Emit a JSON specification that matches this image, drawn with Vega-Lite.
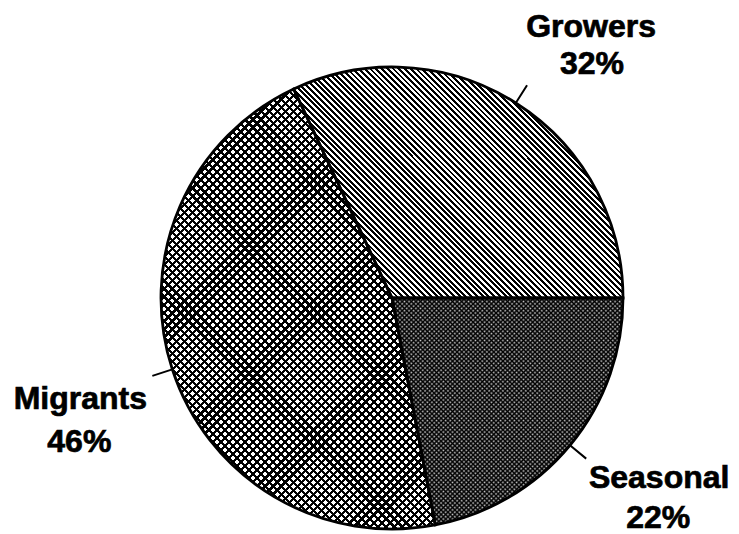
{
  "$schema": "https://vega.github.io/schema/vega-lite/v6.json",
  "autosize": {"type": "none"},
  "width": 600,
  "height": 468,
  "padding": {"left": 92, "top": 64, "right": 47, "bottom": 2},
  "background": "white",
  "view": {"stroke": null},
  "data": {
    "values": [
      {"group": "Growers", "share": 0.32},
      {"group": "Seasonal", "share": 0.22},
      {"group": "Migrants", "share": 0.46}
    ]
  },
  "transform": [
    {"stack": "share", "groupby": [], "sort": [{"field": "group", "order": "descending"}], "as": ["s0", "s1"]}
  ],
  "layer": [
    {
      "transform": [{"filter": "datum.group === 'Growers'"}],
      "mark": {"type": "arc", "outerRadius": 231, "fill": {"gradient": "linear", "x1": 0, "y1": 1, "x2": 1.169, "y2": 0.1802, "stops": [
        {"offset":0,"color":"#000"},{"offset":0.005,"color":"#000"},{"offset":0.005,"color":"#fff"},{"offset":0.01,"color":"#fff"},{"offset":0.01,"color":"#000"},{"offset":0.015,"color":"#000"},{"offset":0.015,"color":"#fff"},{"offset":0.02,"color":"#fff"},{"offset":0.02,"color":"#000"},{"offset":0.025,"color":"#000"},{"offset":0.025,"color":"#fff"},{"offset":0.03,"color":"#fff"},{"offset":0.03,"color":"#000"},{"offset":0.035,"color":"#000"},{"offset":0.035,"color":"#fff"},{"offset":0.04,"color":"#fff"},{"offset":0.04,"color":"#000"},{"offset":0.045,"color":"#000"},{"offset":0.045,"color":"#fff"},{"offset":0.05,"color":"#fff"},{"offset":0.05,"color":"#000"},{"offset":0.055,"color":"#000"},{"offset":0.055,"color":"#fff"},{"offset":0.06,"color":"#fff"},{"offset":0.06,"color":"#000"},{"offset":0.065,"color":"#000"},{"offset":0.065,"color":"#fff"},{"offset":0.07,"color":"#fff"},{"offset":0.07,"color":"#000"},{"offset":0.075,"color":"#000"},{"offset":0.075,"color":"#fff"},{"offset":0.08,"color":"#fff"},{"offset":0.08,"color":"#000"},{"offset":0.085,"color":"#000"},{"offset":0.085,"color":"#fff"},{"offset":0.09,"color":"#fff"},{"offset":0.09,"color":"#000"},{"offset":0.095,"color":"#000"},{"offset":0.095,"color":"#fff"},{"offset":0.1,"color":"#fff"},
        {"offset":0.1,"color":"#000"},{"offset":0.105,"color":"#000"},{"offset":0.105,"color":"#fff"},{"offset":0.11,"color":"#fff"},{"offset":0.11,"color":"#000"},{"offset":0.115,"color":"#000"},{"offset":0.115,"color":"#fff"},{"offset":0.12,"color":"#fff"},{"offset":0.12,"color":"#000"},{"offset":0.125,"color":"#000"},{"offset":0.125,"color":"#fff"},{"offset":0.13,"color":"#fff"},{"offset":0.13,"color":"#000"},{"offset":0.135,"color":"#000"},{"offset":0.135,"color":"#fff"},{"offset":0.14,"color":"#fff"},{"offset":0.14,"color":"#000"},{"offset":0.145,"color":"#000"},{"offset":0.145,"color":"#fff"},{"offset":0.15,"color":"#fff"},{"offset":0.15,"color":"#000"},{"offset":0.155,"color":"#000"},{"offset":0.155,"color":"#fff"},{"offset":0.16,"color":"#fff"},{"offset":0.16,"color":"#000"},{"offset":0.165,"color":"#000"},{"offset":0.165,"color":"#fff"},{"offset":0.17,"color":"#fff"},{"offset":0.17,"color":"#000"},{"offset":0.175,"color":"#000"},{"offset":0.175,"color":"#fff"},{"offset":0.18,"color":"#fff"},{"offset":0.18,"color":"#000"},{"offset":0.185,"color":"#000"},{"offset":0.185,"color":"#fff"},{"offset":0.19,"color":"#fff"},{"offset":0.19,"color":"#000"},{"offset":0.195,"color":"#000"},{"offset":0.195,"color":"#fff"},{"offset":0.2,"color":"#fff"},
        {"offset":0.2,"color":"#000"},{"offset":0.205,"color":"#000"},{"offset":0.205,"color":"#fff"},{"offset":0.21,"color":"#fff"},{"offset":0.21,"color":"#000"},{"offset":0.215,"color":"#000"},{"offset":0.215,"color":"#fff"},{"offset":0.22,"color":"#fff"},{"offset":0.22,"color":"#000"},{"offset":0.225,"color":"#000"},{"offset":0.225,"color":"#fff"},{"offset":0.23,"color":"#fff"},{"offset":0.23,"color":"#000"},{"offset":0.235,"color":"#000"},{"offset":0.235,"color":"#fff"},{"offset":0.24,"color":"#fff"},{"offset":0.24,"color":"#000"},{"offset":0.245,"color":"#000"},{"offset":0.245,"color":"#fff"},{"offset":0.25,"color":"#fff"},{"offset":0.25,"color":"#000"},{"offset":0.255,"color":"#000"},{"offset":0.255,"color":"#fff"},{"offset":0.26,"color":"#fff"},{"offset":0.26,"color":"#000"},{"offset":0.265,"color":"#000"},{"offset":0.265,"color":"#fff"},{"offset":0.27,"color":"#fff"},{"offset":0.27,"color":"#000"},{"offset":0.275,"color":"#000"},{"offset":0.275,"color":"#fff"},{"offset":0.28,"color":"#fff"},{"offset":0.28,"color":"#000"},{"offset":0.285,"color":"#000"},{"offset":0.285,"color":"#fff"},{"offset":0.29,"color":"#fff"},{"offset":0.29,"color":"#000"},{"offset":0.295,"color":"#000"},{"offset":0.295,"color":"#fff"},{"offset":0.3,"color":"#fff"},
        {"offset":0.3,"color":"#000"},{"offset":0.305,"color":"#000"},{"offset":0.305,"color":"#fff"},{"offset":0.31,"color":"#fff"},{"offset":0.31,"color":"#000"},{"offset":0.315,"color":"#000"},{"offset":0.315,"color":"#fff"},{"offset":0.32,"color":"#fff"},{"offset":0.32,"color":"#000"},{"offset":0.325,"color":"#000"},{"offset":0.325,"color":"#fff"},{"offset":0.33,"color":"#fff"},{"offset":0.33,"color":"#000"},{"offset":0.335,"color":"#000"},{"offset":0.335,"color":"#fff"},{"offset":0.34,"color":"#fff"},{"offset":0.34,"color":"#000"},{"offset":0.345,"color":"#000"},{"offset":0.345,"color":"#fff"},{"offset":0.35,"color":"#fff"},{"offset":0.35,"color":"#000"},{"offset":0.355,"color":"#000"},{"offset":0.355,"color":"#fff"},{"offset":0.36,"color":"#fff"},{"offset":0.36,"color":"#000"},{"offset":0.365,"color":"#000"},{"offset":0.365,"color":"#fff"},{"offset":0.37,"color":"#fff"},{"offset":0.37,"color":"#000"},{"offset":0.375,"color":"#000"},{"offset":0.375,"color":"#fff"},{"offset":0.38,"color":"#fff"},{"offset":0.38,"color":"#000"},{"offset":0.385,"color":"#000"},{"offset":0.385,"color":"#fff"},{"offset":0.39,"color":"#fff"},{"offset":0.39,"color":"#000"},{"offset":0.395,"color":"#000"},{"offset":0.395,"color":"#fff"},{"offset":0.4,"color":"#fff"},
        {"offset":0.4,"color":"#000"},{"offset":0.405,"color":"#000"},{"offset":0.405,"color":"#fff"},{"offset":0.41,"color":"#fff"},{"offset":0.41,"color":"#000"},{"offset":0.415,"color":"#000"},{"offset":0.415,"color":"#fff"},{"offset":0.42,"color":"#fff"},{"offset":0.42,"color":"#000"},{"offset":0.425,"color":"#000"},{"offset":0.425,"color":"#fff"},{"offset":0.43,"color":"#fff"},{"offset":0.43,"color":"#000"},{"offset":0.435,"color":"#000"},{"offset":0.435,"color":"#fff"},{"offset":0.44,"color":"#fff"},{"offset":0.44,"color":"#000"},{"offset":0.445,"color":"#000"},{"offset":0.445,"color":"#fff"},{"offset":0.45,"color":"#fff"},{"offset":0.45,"color":"#000"},{"offset":0.455,"color":"#000"},{"offset":0.455,"color":"#fff"},{"offset":0.46,"color":"#fff"},{"offset":0.46,"color":"#000"},{"offset":0.465,"color":"#000"},{"offset":0.465,"color":"#fff"},{"offset":0.47,"color":"#fff"},{"offset":0.47,"color":"#000"},{"offset":0.475,"color":"#000"},{"offset":0.475,"color":"#fff"},{"offset":0.48,"color":"#fff"},{"offset":0.48,"color":"#000"},{"offset":0.485,"color":"#000"},{"offset":0.485,"color":"#fff"},{"offset":0.49,"color":"#fff"},{"offset":0.49,"color":"#000"},{"offset":0.495,"color":"#000"},{"offset":0.495,"color":"#fff"},{"offset":0.5,"color":"#fff"},
        {"offset":0.5,"color":"#000"},{"offset":0.505,"color":"#000"},{"offset":0.505,"color":"#fff"},{"offset":0.51,"color":"#fff"},{"offset":0.51,"color":"#000"},{"offset":0.515,"color":"#000"},{"offset":0.515,"color":"#fff"},{"offset":0.52,"color":"#fff"},{"offset":0.52,"color":"#000"},{"offset":0.525,"color":"#000"},{"offset":0.525,"color":"#fff"},{"offset":0.53,"color":"#fff"},{"offset":0.53,"color":"#000"},{"offset":0.535,"color":"#000"},{"offset":0.535,"color":"#fff"},{"offset":0.54,"color":"#fff"},{"offset":0.54,"color":"#000"},{"offset":0.545,"color":"#000"},{"offset":0.545,"color":"#fff"},{"offset":0.55,"color":"#fff"},{"offset":0.55,"color":"#000"},{"offset":0.555,"color":"#000"},{"offset":0.555,"color":"#fff"},{"offset":0.56,"color":"#fff"},{"offset":0.56,"color":"#000"},{"offset":0.565,"color":"#000"},{"offset":0.565,"color":"#fff"},{"offset":0.57,"color":"#fff"},{"offset":0.57,"color":"#000"},{"offset":0.575,"color":"#000"},{"offset":0.575,"color":"#fff"},{"offset":0.58,"color":"#fff"},{"offset":0.58,"color":"#000"},{"offset":0.585,"color":"#000"},{"offset":0.585,"color":"#fff"},{"offset":0.59,"color":"#fff"},{"offset":0.59,"color":"#000"},{"offset":0.595,"color":"#000"},{"offset":0.595,"color":"#fff"},{"offset":0.6,"color":"#fff"},
        {"offset":0.6,"color":"#000"},{"offset":0.605,"color":"#000"},{"offset":0.605,"color":"#fff"},{"offset":0.61,"color":"#fff"},{"offset":0.61,"color":"#000"},{"offset":0.615,"color":"#000"},{"offset":0.615,"color":"#fff"},{"offset":0.62,"color":"#fff"},{"offset":0.62,"color":"#000"},{"offset":0.625,"color":"#000"},{"offset":0.625,"color":"#fff"},{"offset":0.63,"color":"#fff"},{"offset":0.63,"color":"#000"},{"offset":0.635,"color":"#000"},{"offset":0.635,"color":"#fff"},{"offset":0.64,"color":"#fff"},{"offset":0.64,"color":"#000"},{"offset":0.645,"color":"#000"},{"offset":0.645,"color":"#fff"},{"offset":0.65,"color":"#fff"},{"offset":0.65,"color":"#000"},{"offset":0.655,"color":"#000"},{"offset":0.655,"color":"#fff"},{"offset":0.66,"color":"#fff"},{"offset":0.66,"color":"#000"},{"offset":0.665,"color":"#000"},{"offset":0.665,"color":"#fff"},{"offset":0.67,"color":"#fff"},{"offset":0.67,"color":"#000"},{"offset":0.675,"color":"#000"},{"offset":0.675,"color":"#fff"},{"offset":0.68,"color":"#fff"},{"offset":0.68,"color":"#000"},{"offset":0.685,"color":"#000"},{"offset":0.685,"color":"#fff"},{"offset":0.69,"color":"#fff"},{"offset":0.69,"color":"#000"},{"offset":0.695,"color":"#000"},{"offset":0.695,"color":"#fff"},{"offset":0.7,"color":"#fff"},
        {"offset":0.7,"color":"#000"},{"offset":0.705,"color":"#000"},{"offset":0.705,"color":"#fff"},{"offset":0.71,"color":"#fff"},{"offset":0.71,"color":"#000"},{"offset":0.715,"color":"#000"},{"offset":0.715,"color":"#fff"},{"offset":0.72,"color":"#fff"},{"offset":0.72,"color":"#000"},{"offset":0.725,"color":"#000"},{"offset":0.725,"color":"#fff"},{"offset":0.73,"color":"#fff"},{"offset":0.73,"color":"#000"},{"offset":0.735,"color":"#000"},{"offset":0.735,"color":"#fff"},{"offset":0.74,"color":"#fff"},{"offset":0.74,"color":"#000"},{"offset":0.745,"color":"#000"},{"offset":0.745,"color":"#fff"},{"offset":0.75,"color":"#fff"},{"offset":0.75,"color":"#000"},{"offset":0.755,"color":"#000"},{"offset":0.755,"color":"#fff"},{"offset":0.76,"color":"#fff"},{"offset":0.76,"color":"#000"},{"offset":0.765,"color":"#000"},{"offset":0.765,"color":"#fff"},{"offset":0.77,"color":"#fff"},{"offset":0.77,"color":"#000"},{"offset":0.775,"color":"#000"},{"offset":0.775,"color":"#fff"},{"offset":0.78,"color":"#fff"},{"offset":0.78,"color":"#000"},{"offset":0.785,"color":"#000"},{"offset":0.785,"color":"#fff"},{"offset":0.79,"color":"#fff"},{"offset":0.79,"color":"#000"},{"offset":0.795,"color":"#000"},{"offset":0.795,"color":"#fff"},{"offset":0.8,"color":"#fff"},
        {"offset":0.8,"color":"#000"},{"offset":0.805,"color":"#000"},{"offset":0.805,"color":"#fff"},{"offset":0.81,"color":"#fff"},{"offset":0.81,"color":"#000"},{"offset":0.815,"color":"#000"},{"offset":0.815,"color":"#fff"},{"offset":0.82,"color":"#fff"},{"offset":0.82,"color":"#000"},{"offset":0.825,"color":"#000"},{"offset":0.825,"color":"#fff"},{"offset":0.83,"color":"#fff"},{"offset":0.83,"color":"#000"},{"offset":0.835,"color":"#000"},{"offset":0.835,"color":"#fff"},{"offset":0.84,"color":"#fff"},{"offset":0.84,"color":"#000"},{"offset":0.845,"color":"#000"},{"offset":0.845,"color":"#fff"},{"offset":0.85,"color":"#fff"},{"offset":0.85,"color":"#000"},{"offset":0.855,"color":"#000"},{"offset":0.855,"color":"#fff"},{"offset":0.86,"color":"#fff"},{"offset":0.86,"color":"#000"},{"offset":0.865,"color":"#000"},{"offset":0.865,"color":"#fff"},{"offset":0.87,"color":"#fff"},{"offset":0.87,"color":"#000"},{"offset":0.875,"color":"#000"},{"offset":0.875,"color":"#fff"},{"offset":0.88,"color":"#fff"},{"offset":0.88,"color":"#000"},{"offset":0.885,"color":"#000"},{"offset":0.885,"color":"#fff"},{"offset":0.89,"color":"#fff"},{"offset":0.89,"color":"#000"},{"offset":0.895,"color":"#000"},{"offset":0.895,"color":"#fff"},{"offset":0.9,"color":"#fff"},
        {"offset":0.9,"color":"#000"},{"offset":0.905,"color":"#000"},{"offset":0.905,"color":"#fff"},{"offset":0.91,"color":"#fff"},{"offset":0.91,"color":"#000"},{"offset":0.915,"color":"#000"},{"offset":0.915,"color":"#fff"},{"offset":0.92,"color":"#fff"},{"offset":0.92,"color":"#000"},{"offset":0.925,"color":"#000"},{"offset":0.925,"color":"#fff"},{"offset":0.93,"color":"#fff"},{"offset":0.93,"color":"#000"},{"offset":0.935,"color":"#000"},{"offset":0.935,"color":"#fff"},{"offset":0.94,"color":"#fff"},{"offset":0.94,"color":"#000"},{"offset":0.945,"color":"#000"},{"offset":0.945,"color":"#fff"},{"offset":0.95,"color":"#fff"},{"offset":0.95,"color":"#000"},{"offset":0.955,"color":"#000"},{"offset":0.955,"color":"#fff"},{"offset":0.96,"color":"#fff"},{"offset":0.96,"color":"#000"},{"offset":0.965,"color":"#000"},{"offset":0.965,"color":"#fff"},{"offset":0.97,"color":"#fff"},{"offset":0.97,"color":"#000"},{"offset":0.975,"color":"#000"},{"offset":0.975,"color":"#fff"},{"offset":0.98,"color":"#fff"},{"offset":0.98,"color":"#000"},{"offset":0.985,"color":"#000"},{"offset":0.985,"color":"#fff"},{"offset":0.99,"color":"#fff"},{"offset":0.99,"color":"#000"},{"offset":0.995,"color":"#000"},{"offset":0.995,"color":"#fff"},{"offset":1,"color":"#fff"}
      ]}},
      "encoding": {
        "theta": {"field": "s0", "type": "quantitative", "scale": {"domain": [0, 1], "range": [1.5708, 7.854]}},
        "theta2": {"field": "s1"}
      }
    },
    {
      "transform": [{"filter": "datum.group === 'Migrants'"}],
      "mark": {"type": "arc", "outerRadius": 231, "fill": {"gradient": "linear", "x1": 0, "y1": 1, "x2": 0.8226, "y2": -0.3196, "stops": [
        {"offset":0,"color":"#000"},{"offset":0.004,"color":"#000"},{"offset":0.004,"color":"#fff"},{"offset":0.01,"color":"#fff"},{"offset":0.01,"color":"#000"},{"offset":0.014,"color":"#000"},{"offset":0.014,"color":"#fff"},{"offset":0.02,"color":"#fff"},{"offset":0.02,"color":"#000"},{"offset":0.024,"color":"#000"},{"offset":0.024,"color":"#fff"},{"offset":0.03,"color":"#fff"},{"offset":0.03,"color":"#000"},{"offset":0.034,"color":"#000"},{"offset":0.034,"color":"#fff"},{"offset":0.04,"color":"#fff"},{"offset":0.04,"color":"#000"},{"offset":0.044,"color":"#000"},{"offset":0.044,"color":"#fff"},{"offset":0.05,"color":"#fff"},{"offset":0.05,"color":"#000"},{"offset":0.054,"color":"#000"},{"offset":0.054,"color":"#fff"},{"offset":0.06,"color":"#fff"},{"offset":0.06,"color":"#000"},{"offset":0.064,"color":"#000"},{"offset":0.064,"color":"#fff"},{"offset":0.07,"color":"#fff"},{"offset":0.07,"color":"#000"},{"offset":0.074,"color":"#000"},{"offset":0.074,"color":"#fff"},{"offset":0.08,"color":"#fff"},{"offset":0.08,"color":"#000"},{"offset":0.084,"color":"#000"},{"offset":0.084,"color":"#fff"},{"offset":0.09,"color":"#fff"},{"offset":0.09,"color":"#000"},{"offset":0.094,"color":"#000"},{"offset":0.094,"color":"#fff"},{"offset":0.1,"color":"#fff"},
        {"offset":0.1,"color":"#000"},{"offset":0.104,"color":"#000"},{"offset":0.104,"color":"#fff"},{"offset":0.11,"color":"#fff"},{"offset":0.11,"color":"#000"},{"offset":0.114,"color":"#000"},{"offset":0.114,"color":"#fff"},{"offset":0.12,"color":"#fff"},{"offset":0.12,"color":"#000"},{"offset":0.124,"color":"#000"},{"offset":0.124,"color":"#fff"},{"offset":0.13,"color":"#fff"},{"offset":0.13,"color":"#000"},{"offset":0.134,"color":"#000"},{"offset":0.134,"color":"#fff"},{"offset":0.14,"color":"#fff"},{"offset":0.14,"color":"#000"},{"offset":0.144,"color":"#000"},{"offset":0.144,"color":"#fff"},{"offset":0.15,"color":"#fff"},{"offset":0.15,"color":"#000"},{"offset":0.154,"color":"#000"},{"offset":0.154,"color":"#fff"},{"offset":0.16,"color":"#fff"},{"offset":0.16,"color":"#000"},{"offset":0.164,"color":"#000"},{"offset":0.164,"color":"#fff"},{"offset":0.17,"color":"#fff"},{"offset":0.17,"color":"#000"},{"offset":0.174,"color":"#000"},{"offset":0.174,"color":"#fff"},{"offset":0.18,"color":"#fff"},{"offset":0.18,"color":"#000"},{"offset":0.184,"color":"#000"},{"offset":0.184,"color":"#fff"},{"offset":0.19,"color":"#fff"},{"offset":0.19,"color":"#000"},{"offset":0.194,"color":"#000"},{"offset":0.194,"color":"#fff"},{"offset":0.2,"color":"#fff"},
        {"offset":0.2,"color":"#000"},{"offset":0.204,"color":"#000"},{"offset":0.204,"color":"#fff"},{"offset":0.21,"color":"#fff"},{"offset":0.21,"color":"#000"},{"offset":0.214,"color":"#000"},{"offset":0.214,"color":"#fff"},{"offset":0.22,"color":"#fff"},{"offset":0.22,"color":"#000"},{"offset":0.224,"color":"#000"},{"offset":0.224,"color":"#fff"},{"offset":0.23,"color":"#fff"},{"offset":0.23,"color":"#000"},{"offset":0.234,"color":"#000"},{"offset":0.234,"color":"#fff"},{"offset":0.24,"color":"#fff"},{"offset":0.24,"color":"#000"},{"offset":0.244,"color":"#000"},{"offset":0.244,"color":"#fff"},{"offset":0.25,"color":"#fff"},{"offset":0.25,"color":"#000"},{"offset":0.254,"color":"#000"},{"offset":0.254,"color":"#fff"},{"offset":0.26,"color":"#fff"},{"offset":0.26,"color":"#000"},{"offset":0.264,"color":"#000"},{"offset":0.264,"color":"#fff"},{"offset":0.27,"color":"#fff"},{"offset":0.27,"color":"#000"},{"offset":0.274,"color":"#000"},{"offset":0.274,"color":"#fff"},{"offset":0.28,"color":"#fff"},{"offset":0.28,"color":"#000"},{"offset":0.284,"color":"#000"},{"offset":0.284,"color":"#fff"},{"offset":0.29,"color":"#fff"},{"offset":0.29,"color":"#000"},{"offset":0.294,"color":"#000"},{"offset":0.294,"color":"#fff"},{"offset":0.3,"color":"#fff"},
        {"offset":0.3,"color":"#000"},{"offset":0.304,"color":"#000"},{"offset":0.304,"color":"#fff"},{"offset":0.31,"color":"#fff"},{"offset":0.31,"color":"#000"},{"offset":0.314,"color":"#000"},{"offset":0.314,"color":"#fff"},{"offset":0.32,"color":"#fff"},{"offset":0.32,"color":"#000"},{"offset":0.324,"color":"#000"},{"offset":0.324,"color":"#fff"},{"offset":0.33,"color":"#fff"},{"offset":0.33,"color":"#000"},{"offset":0.334,"color":"#000"},{"offset":0.334,"color":"#fff"},{"offset":0.34,"color":"#fff"},{"offset":0.34,"color":"#000"},{"offset":0.344,"color":"#000"},{"offset":0.344,"color":"#fff"},{"offset":0.35,"color":"#fff"},{"offset":0.35,"color":"#000"},{"offset":0.354,"color":"#000"},{"offset":0.354,"color":"#fff"},{"offset":0.36,"color":"#fff"},{"offset":0.36,"color":"#000"},{"offset":0.364,"color":"#000"},{"offset":0.364,"color":"#fff"},{"offset":0.37,"color":"#fff"},{"offset":0.37,"color":"#000"},{"offset":0.374,"color":"#000"},{"offset":0.374,"color":"#fff"},{"offset":0.38,"color":"#fff"},{"offset":0.38,"color":"#000"},{"offset":0.384,"color":"#000"},{"offset":0.384,"color":"#fff"},{"offset":0.39,"color":"#fff"},{"offset":0.39,"color":"#000"},{"offset":0.394,"color":"#000"},{"offset":0.394,"color":"#fff"},{"offset":0.4,"color":"#fff"},
        {"offset":0.4,"color":"#000"},{"offset":0.404,"color":"#000"},{"offset":0.404,"color":"#fff"},{"offset":0.41,"color":"#fff"},{"offset":0.41,"color":"#000"},{"offset":0.414,"color":"#000"},{"offset":0.414,"color":"#fff"},{"offset":0.42,"color":"#fff"},{"offset":0.42,"color":"#000"},{"offset":0.424,"color":"#000"},{"offset":0.424,"color":"#fff"},{"offset":0.43,"color":"#fff"},{"offset":0.43,"color":"#000"},{"offset":0.434,"color":"#000"},{"offset":0.434,"color":"#fff"},{"offset":0.44,"color":"#fff"},{"offset":0.44,"color":"#000"},{"offset":0.444,"color":"#000"},{"offset":0.444,"color":"#fff"},{"offset":0.45,"color":"#fff"},{"offset":0.45,"color":"#000"},{"offset":0.454,"color":"#000"},{"offset":0.454,"color":"#fff"},{"offset":0.46,"color":"#fff"},{"offset":0.46,"color":"#000"},{"offset":0.464,"color":"#000"},{"offset":0.464,"color":"#fff"},{"offset":0.47,"color":"#fff"},{"offset":0.47,"color":"#000"},{"offset":0.474,"color":"#000"},{"offset":0.474,"color":"#fff"},{"offset":0.48,"color":"#fff"},{"offset":0.48,"color":"#000"},{"offset":0.484,"color":"#000"},{"offset":0.484,"color":"#fff"},{"offset":0.49,"color":"#fff"},{"offset":0.49,"color":"#000"},{"offset":0.494,"color":"#000"},{"offset":0.494,"color":"#fff"},{"offset":0.5,"color":"#fff"},
        {"offset":0.5,"color":"#000"},{"offset":0.504,"color":"#000"},{"offset":0.504,"color":"#fff"},{"offset":0.51,"color":"#fff"},{"offset":0.51,"color":"#000"},{"offset":0.514,"color":"#000"},{"offset":0.514,"color":"#fff"},{"offset":0.52,"color":"#fff"},{"offset":0.52,"color":"#000"},{"offset":0.524,"color":"#000"},{"offset":0.524,"color":"#fff"},{"offset":0.53,"color":"#fff"},{"offset":0.53,"color":"#000"},{"offset":0.534,"color":"#000"},{"offset":0.534,"color":"#fff"},{"offset":0.54,"color":"#fff"},{"offset":0.54,"color":"#000"},{"offset":0.544,"color":"#000"},{"offset":0.544,"color":"#fff"},{"offset":0.55,"color":"#fff"},{"offset":0.55,"color":"#000"},{"offset":0.554,"color":"#000"},{"offset":0.554,"color":"#fff"},{"offset":0.56,"color":"#fff"},{"offset":0.56,"color":"#000"},{"offset":0.564,"color":"#000"},{"offset":0.564,"color":"#fff"},{"offset":0.57,"color":"#fff"},{"offset":0.57,"color":"#000"},{"offset":0.574,"color":"#000"},{"offset":0.574,"color":"#fff"},{"offset":0.58,"color":"#fff"},{"offset":0.58,"color":"#000"},{"offset":0.584,"color":"#000"},{"offset":0.584,"color":"#fff"},{"offset":0.59,"color":"#fff"},{"offset":0.59,"color":"#000"},{"offset":0.594,"color":"#000"},{"offset":0.594,"color":"#fff"},{"offset":0.6,"color":"#fff"},
        {"offset":0.6,"color":"#000"},{"offset":0.604,"color":"#000"},{"offset":0.604,"color":"#fff"},{"offset":0.61,"color":"#fff"},{"offset":0.61,"color":"#000"},{"offset":0.614,"color":"#000"},{"offset":0.614,"color":"#fff"},{"offset":0.62,"color":"#fff"},{"offset":0.62,"color":"#000"},{"offset":0.624,"color":"#000"},{"offset":0.624,"color":"#fff"},{"offset":0.63,"color":"#fff"},{"offset":0.63,"color":"#000"},{"offset":0.634,"color":"#000"},{"offset":0.634,"color":"#fff"},{"offset":0.64,"color":"#fff"},{"offset":0.64,"color":"#000"},{"offset":0.644,"color":"#000"},{"offset":0.644,"color":"#fff"},{"offset":0.65,"color":"#fff"},{"offset":0.65,"color":"#000"},{"offset":0.654,"color":"#000"},{"offset":0.654,"color":"#fff"},{"offset":0.66,"color":"#fff"},{"offset":0.66,"color":"#000"},{"offset":0.664,"color":"#000"},{"offset":0.664,"color":"#fff"},{"offset":0.67,"color":"#fff"},{"offset":0.67,"color":"#000"},{"offset":0.674,"color":"#000"},{"offset":0.674,"color":"#fff"},{"offset":0.68,"color":"#fff"},{"offset":0.68,"color":"#000"},{"offset":0.684,"color":"#000"},{"offset":0.684,"color":"#fff"},{"offset":0.69,"color":"#fff"},{"offset":0.69,"color":"#000"},{"offset":0.694,"color":"#000"},{"offset":0.694,"color":"#fff"},{"offset":0.7,"color":"#fff"},
        {"offset":0.7,"color":"#000"},{"offset":0.704,"color":"#000"},{"offset":0.704,"color":"#fff"},{"offset":0.71,"color":"#fff"},{"offset":0.71,"color":"#000"},{"offset":0.714,"color":"#000"},{"offset":0.714,"color":"#fff"},{"offset":0.72,"color":"#fff"},{"offset":0.72,"color":"#000"},{"offset":0.724,"color":"#000"},{"offset":0.724,"color":"#fff"},{"offset":0.73,"color":"#fff"},{"offset":0.73,"color":"#000"},{"offset":0.734,"color":"#000"},{"offset":0.734,"color":"#fff"},{"offset":0.74,"color":"#fff"},{"offset":0.74,"color":"#000"},{"offset":0.744,"color":"#000"},{"offset":0.744,"color":"#fff"},{"offset":0.75,"color":"#fff"},{"offset":0.75,"color":"#000"},{"offset":0.754,"color":"#000"},{"offset":0.754,"color":"#fff"},{"offset":0.76,"color":"#fff"},{"offset":0.76,"color":"#000"},{"offset":0.764,"color":"#000"},{"offset":0.764,"color":"#fff"},{"offset":0.77,"color":"#fff"},{"offset":0.77,"color":"#000"},{"offset":0.774,"color":"#000"},{"offset":0.774,"color":"#fff"},{"offset":0.78,"color":"#fff"},{"offset":0.78,"color":"#000"},{"offset":0.784,"color":"#000"},{"offset":0.784,"color":"#fff"},{"offset":0.79,"color":"#fff"},{"offset":0.79,"color":"#000"},{"offset":0.794,"color":"#000"},{"offset":0.794,"color":"#fff"},{"offset":0.8,"color":"#fff"},
        {"offset":0.8,"color":"#000"},{"offset":0.804,"color":"#000"},{"offset":0.804,"color":"#fff"},{"offset":0.81,"color":"#fff"},{"offset":0.81,"color":"#000"},{"offset":0.814,"color":"#000"},{"offset":0.814,"color":"#fff"},{"offset":0.82,"color":"#fff"},{"offset":0.82,"color":"#000"},{"offset":0.824,"color":"#000"},{"offset":0.824,"color":"#fff"},{"offset":0.83,"color":"#fff"},{"offset":0.83,"color":"#000"},{"offset":0.834,"color":"#000"},{"offset":0.834,"color":"#fff"},{"offset":0.84,"color":"#fff"},{"offset":0.84,"color":"#000"},{"offset":0.844,"color":"#000"},{"offset":0.844,"color":"#fff"},{"offset":0.85,"color":"#fff"},{"offset":0.85,"color":"#000"},{"offset":0.854,"color":"#000"},{"offset":0.854,"color":"#fff"},{"offset":0.86,"color":"#fff"},{"offset":0.86,"color":"#000"},{"offset":0.864,"color":"#000"},{"offset":0.864,"color":"#fff"},{"offset":0.87,"color":"#fff"},{"offset":0.87,"color":"#000"},{"offset":0.874,"color":"#000"},{"offset":0.874,"color":"#fff"},{"offset":0.88,"color":"#fff"},{"offset":0.88,"color":"#000"},{"offset":0.884,"color":"#000"},{"offset":0.884,"color":"#fff"},{"offset":0.89,"color":"#fff"},{"offset":0.89,"color":"#000"},{"offset":0.894,"color":"#000"},{"offset":0.894,"color":"#fff"},{"offset":0.9,"color":"#fff"},
        {"offset":0.9,"color":"#000"},{"offset":0.904,"color":"#000"},{"offset":0.904,"color":"#fff"},{"offset":0.91,"color":"#fff"},{"offset":0.91,"color":"#000"},{"offset":0.914,"color":"#000"},{"offset":0.914,"color":"#fff"},{"offset":0.92,"color":"#fff"},{"offset":0.92,"color":"#000"},{"offset":0.924,"color":"#000"},{"offset":0.924,"color":"#fff"},{"offset":0.93,"color":"#fff"},{"offset":0.93,"color":"#000"},{"offset":0.934,"color":"#000"},{"offset":0.934,"color":"#fff"},{"offset":0.94,"color":"#fff"},{"offset":0.94,"color":"#000"},{"offset":0.944,"color":"#000"},{"offset":0.944,"color":"#fff"},{"offset":0.95,"color":"#fff"},{"offset":0.95,"color":"#000"},{"offset":0.954,"color":"#000"},{"offset":0.954,"color":"#fff"},{"offset":0.96,"color":"#fff"},{"offset":0.96,"color":"#000"},{"offset":0.964,"color":"#000"},{"offset":0.964,"color":"#fff"},{"offset":0.97,"color":"#fff"},{"offset":0.97,"color":"#000"},{"offset":0.974,"color":"#000"},{"offset":0.974,"color":"#fff"},{"offset":0.98,"color":"#fff"},{"offset":0.98,"color":"#000"},{"offset":0.984,"color":"#000"},{"offset":0.984,"color":"#fff"},{"offset":0.99,"color":"#fff"},{"offset":0.99,"color":"#000"},{"offset":0.994,"color":"#000"},{"offset":0.994,"color":"#fff"},{"offset":1,"color":"#fff"}
      ]}},
      "encoding": {
        "theta": {"field": "s0", "type": "quantitative", "scale": {"domain": [0, 1], "range": [1.5708, 7.854]}},
        "theta2": {"field": "s1"}
      }
    },
    {
      "transform": [{"filter": "datum.group === 'Migrants'"}],
      "mark": {"type": "arc", "outerRadius": 231, "fill": {"gradient": "linear", "x1": 0, "y1": 0, "x2": 0.8226, "y2": 1.3196, "stops": [
        {"offset":0,"color":"#000"},{"offset":0.004,"color":"#000"},{"offset":0.004,"color":"#0000"},{"offset":0.01,"color":"#0000"},{"offset":0.01,"color":"#000"},{"offset":0.014,"color":"#000"},{"offset":0.014,"color":"#0000"},{"offset":0.02,"color":"#0000"},{"offset":0.02,"color":"#000"},{"offset":0.024,"color":"#000"},{"offset":0.024,"color":"#0000"},{"offset":0.03,"color":"#0000"},{"offset":0.03,"color":"#000"},{"offset":0.034,"color":"#000"},{"offset":0.034,"color":"#0000"},{"offset":0.04,"color":"#0000"},{"offset":0.04,"color":"#000"},{"offset":0.044,"color":"#000"},{"offset":0.044,"color":"#0000"},{"offset":0.05,"color":"#0000"},{"offset":0.05,"color":"#000"},{"offset":0.054,"color":"#000"},{"offset":0.054,"color":"#0000"},{"offset":0.06,"color":"#0000"},{"offset":0.06,"color":"#000"},{"offset":0.064,"color":"#000"},{"offset":0.064,"color":"#0000"},{"offset":0.07,"color":"#0000"},{"offset":0.07,"color":"#000"},{"offset":0.074,"color":"#000"},{"offset":0.074,"color":"#0000"},{"offset":0.08,"color":"#0000"},{"offset":0.08,"color":"#000"},{"offset":0.084,"color":"#000"},{"offset":0.084,"color":"#0000"},{"offset":0.09,"color":"#0000"},{"offset":0.09,"color":"#000"},{"offset":0.094,"color":"#000"},{"offset":0.094,"color":"#0000"},{"offset":0.1,"color":"#0000"},
        {"offset":0.1,"color":"#000"},{"offset":0.104,"color":"#000"},{"offset":0.104,"color":"#0000"},{"offset":0.11,"color":"#0000"},{"offset":0.11,"color":"#000"},{"offset":0.114,"color":"#000"},{"offset":0.114,"color":"#0000"},{"offset":0.12,"color":"#0000"},{"offset":0.12,"color":"#000"},{"offset":0.124,"color":"#000"},{"offset":0.124,"color":"#0000"},{"offset":0.13,"color":"#0000"},{"offset":0.13,"color":"#000"},{"offset":0.134,"color":"#000"},{"offset":0.134,"color":"#0000"},{"offset":0.14,"color":"#0000"},{"offset":0.14,"color":"#000"},{"offset":0.144,"color":"#000"},{"offset":0.144,"color":"#0000"},{"offset":0.15,"color":"#0000"},{"offset":0.15,"color":"#000"},{"offset":0.154,"color":"#000"},{"offset":0.154,"color":"#0000"},{"offset":0.16,"color":"#0000"},{"offset":0.16,"color":"#000"},{"offset":0.164,"color":"#000"},{"offset":0.164,"color":"#0000"},{"offset":0.17,"color":"#0000"},{"offset":0.17,"color":"#000"},{"offset":0.174,"color":"#000"},{"offset":0.174,"color":"#0000"},{"offset":0.18,"color":"#0000"},{"offset":0.18,"color":"#000"},{"offset":0.184,"color":"#000"},{"offset":0.184,"color":"#0000"},{"offset":0.19,"color":"#0000"},{"offset":0.19,"color":"#000"},{"offset":0.194,"color":"#000"},{"offset":0.194,"color":"#0000"},{"offset":0.2,"color":"#0000"},
        {"offset":0.2,"color":"#000"},{"offset":0.204,"color":"#000"},{"offset":0.204,"color":"#0000"},{"offset":0.21,"color":"#0000"},{"offset":0.21,"color":"#000"},{"offset":0.214,"color":"#000"},{"offset":0.214,"color":"#0000"},{"offset":0.22,"color":"#0000"},{"offset":0.22,"color":"#000"},{"offset":0.224,"color":"#000"},{"offset":0.224,"color":"#0000"},{"offset":0.23,"color":"#0000"},{"offset":0.23,"color":"#000"},{"offset":0.234,"color":"#000"},{"offset":0.234,"color":"#0000"},{"offset":0.24,"color":"#0000"},{"offset":0.24,"color":"#000"},{"offset":0.244,"color":"#000"},{"offset":0.244,"color":"#0000"},{"offset":0.25,"color":"#0000"},{"offset":0.25,"color":"#000"},{"offset":0.254,"color":"#000"},{"offset":0.254,"color":"#0000"},{"offset":0.26,"color":"#0000"},{"offset":0.26,"color":"#000"},{"offset":0.264,"color":"#000"},{"offset":0.264,"color":"#0000"},{"offset":0.27,"color":"#0000"},{"offset":0.27,"color":"#000"},{"offset":0.274,"color":"#000"},{"offset":0.274,"color":"#0000"},{"offset":0.28,"color":"#0000"},{"offset":0.28,"color":"#000"},{"offset":0.284,"color":"#000"},{"offset":0.284,"color":"#0000"},{"offset":0.29,"color":"#0000"},{"offset":0.29,"color":"#000"},{"offset":0.294,"color":"#000"},{"offset":0.294,"color":"#0000"},{"offset":0.3,"color":"#0000"},
        {"offset":0.3,"color":"#000"},{"offset":0.304,"color":"#000"},{"offset":0.304,"color":"#0000"},{"offset":0.31,"color":"#0000"},{"offset":0.31,"color":"#000"},{"offset":0.314,"color":"#000"},{"offset":0.314,"color":"#0000"},{"offset":0.32,"color":"#0000"},{"offset":0.32,"color":"#000"},{"offset":0.324,"color":"#000"},{"offset":0.324,"color":"#0000"},{"offset":0.33,"color":"#0000"},{"offset":0.33,"color":"#000"},{"offset":0.334,"color":"#000"},{"offset":0.334,"color":"#0000"},{"offset":0.34,"color":"#0000"},{"offset":0.34,"color":"#000"},{"offset":0.344,"color":"#000"},{"offset":0.344,"color":"#0000"},{"offset":0.35,"color":"#0000"},{"offset":0.35,"color":"#000"},{"offset":0.354,"color":"#000"},{"offset":0.354,"color":"#0000"},{"offset":0.36,"color":"#0000"},{"offset":0.36,"color":"#000"},{"offset":0.364,"color":"#000"},{"offset":0.364,"color":"#0000"},{"offset":0.37,"color":"#0000"},{"offset":0.37,"color":"#000"},{"offset":0.374,"color":"#000"},{"offset":0.374,"color":"#0000"},{"offset":0.38,"color":"#0000"},{"offset":0.38,"color":"#000"},{"offset":0.384,"color":"#000"},{"offset":0.384,"color":"#0000"},{"offset":0.39,"color":"#0000"},{"offset":0.39,"color":"#000"},{"offset":0.394,"color":"#000"},{"offset":0.394,"color":"#0000"},{"offset":0.4,"color":"#0000"},
        {"offset":0.4,"color":"#000"},{"offset":0.404,"color":"#000"},{"offset":0.404,"color":"#0000"},{"offset":0.41,"color":"#0000"},{"offset":0.41,"color":"#000"},{"offset":0.414,"color":"#000"},{"offset":0.414,"color":"#0000"},{"offset":0.42,"color":"#0000"},{"offset":0.42,"color":"#000"},{"offset":0.424,"color":"#000"},{"offset":0.424,"color":"#0000"},{"offset":0.43,"color":"#0000"},{"offset":0.43,"color":"#000"},{"offset":0.434,"color":"#000"},{"offset":0.434,"color":"#0000"},{"offset":0.44,"color":"#0000"},{"offset":0.44,"color":"#000"},{"offset":0.444,"color":"#000"},{"offset":0.444,"color":"#0000"},{"offset":0.45,"color":"#0000"},{"offset":0.45,"color":"#000"},{"offset":0.454,"color":"#000"},{"offset":0.454,"color":"#0000"},{"offset":0.46,"color":"#0000"},{"offset":0.46,"color":"#000"},{"offset":0.464,"color":"#000"},{"offset":0.464,"color":"#0000"},{"offset":0.47,"color":"#0000"},{"offset":0.47,"color":"#000"},{"offset":0.474,"color":"#000"},{"offset":0.474,"color":"#0000"},{"offset":0.48,"color":"#0000"},{"offset":0.48,"color":"#000"},{"offset":0.484,"color":"#000"},{"offset":0.484,"color":"#0000"},{"offset":0.49,"color":"#0000"},{"offset":0.49,"color":"#000"},{"offset":0.494,"color":"#000"},{"offset":0.494,"color":"#0000"},{"offset":0.5,"color":"#0000"},
        {"offset":0.5,"color":"#000"},{"offset":0.504,"color":"#000"},{"offset":0.504,"color":"#0000"},{"offset":0.51,"color":"#0000"},{"offset":0.51,"color":"#000"},{"offset":0.514,"color":"#000"},{"offset":0.514,"color":"#0000"},{"offset":0.52,"color":"#0000"},{"offset":0.52,"color":"#000"},{"offset":0.524,"color":"#000"},{"offset":0.524,"color":"#0000"},{"offset":0.53,"color":"#0000"},{"offset":0.53,"color":"#000"},{"offset":0.534,"color":"#000"},{"offset":0.534,"color":"#0000"},{"offset":0.54,"color":"#0000"},{"offset":0.54,"color":"#000"},{"offset":0.544,"color":"#000"},{"offset":0.544,"color":"#0000"},{"offset":0.55,"color":"#0000"},{"offset":0.55,"color":"#000"},{"offset":0.554,"color":"#000"},{"offset":0.554,"color":"#0000"},{"offset":0.56,"color":"#0000"},{"offset":0.56,"color":"#000"},{"offset":0.564,"color":"#000"},{"offset":0.564,"color":"#0000"},{"offset":0.57,"color":"#0000"},{"offset":0.57,"color":"#000"},{"offset":0.574,"color":"#000"},{"offset":0.574,"color":"#0000"},{"offset":0.58,"color":"#0000"},{"offset":0.58,"color":"#000"},{"offset":0.584,"color":"#000"},{"offset":0.584,"color":"#0000"},{"offset":0.59,"color":"#0000"},{"offset":0.59,"color":"#000"},{"offset":0.594,"color":"#000"},{"offset":0.594,"color":"#0000"},{"offset":0.6,"color":"#0000"},
        {"offset":0.6,"color":"#000"},{"offset":0.604,"color":"#000"},{"offset":0.604,"color":"#0000"},{"offset":0.61,"color":"#0000"},{"offset":0.61,"color":"#000"},{"offset":0.614,"color":"#000"},{"offset":0.614,"color":"#0000"},{"offset":0.62,"color":"#0000"},{"offset":0.62,"color":"#000"},{"offset":0.624,"color":"#000"},{"offset":0.624,"color":"#0000"},{"offset":0.63,"color":"#0000"},{"offset":0.63,"color":"#000"},{"offset":0.634,"color":"#000"},{"offset":0.634,"color":"#0000"},{"offset":0.64,"color":"#0000"},{"offset":0.64,"color":"#000"},{"offset":0.644,"color":"#000"},{"offset":0.644,"color":"#0000"},{"offset":0.65,"color":"#0000"},{"offset":0.65,"color":"#000"},{"offset":0.654,"color":"#000"},{"offset":0.654,"color":"#0000"},{"offset":0.66,"color":"#0000"},{"offset":0.66,"color":"#000"},{"offset":0.664,"color":"#000"},{"offset":0.664,"color":"#0000"},{"offset":0.67,"color":"#0000"},{"offset":0.67,"color":"#000"},{"offset":0.674,"color":"#000"},{"offset":0.674,"color":"#0000"},{"offset":0.68,"color":"#0000"},{"offset":0.68,"color":"#000"},{"offset":0.684,"color":"#000"},{"offset":0.684,"color":"#0000"},{"offset":0.69,"color":"#0000"},{"offset":0.69,"color":"#000"},{"offset":0.694,"color":"#000"},{"offset":0.694,"color":"#0000"},{"offset":0.7,"color":"#0000"},
        {"offset":0.7,"color":"#000"},{"offset":0.704,"color":"#000"},{"offset":0.704,"color":"#0000"},{"offset":0.71,"color":"#0000"},{"offset":0.71,"color":"#000"},{"offset":0.714,"color":"#000"},{"offset":0.714,"color":"#0000"},{"offset":0.72,"color":"#0000"},{"offset":0.72,"color":"#000"},{"offset":0.724,"color":"#000"},{"offset":0.724,"color":"#0000"},{"offset":0.73,"color":"#0000"},{"offset":0.73,"color":"#000"},{"offset":0.734,"color":"#000"},{"offset":0.734,"color":"#0000"},{"offset":0.74,"color":"#0000"},{"offset":0.74,"color":"#000"},{"offset":0.744,"color":"#000"},{"offset":0.744,"color":"#0000"},{"offset":0.75,"color":"#0000"},{"offset":0.75,"color":"#000"},{"offset":0.754,"color":"#000"},{"offset":0.754,"color":"#0000"},{"offset":0.76,"color":"#0000"},{"offset":0.76,"color":"#000"},{"offset":0.764,"color":"#000"},{"offset":0.764,"color":"#0000"},{"offset":0.77,"color":"#0000"},{"offset":0.77,"color":"#000"},{"offset":0.774,"color":"#000"},{"offset":0.774,"color":"#0000"},{"offset":0.78,"color":"#0000"},{"offset":0.78,"color":"#000"},{"offset":0.784,"color":"#000"},{"offset":0.784,"color":"#0000"},{"offset":0.79,"color":"#0000"},{"offset":0.79,"color":"#000"},{"offset":0.794,"color":"#000"},{"offset":0.794,"color":"#0000"},{"offset":0.8,"color":"#0000"},
        {"offset":0.8,"color":"#000"},{"offset":0.804,"color":"#000"},{"offset":0.804,"color":"#0000"},{"offset":0.81,"color":"#0000"},{"offset":0.81,"color":"#000"},{"offset":0.814,"color":"#000"},{"offset":0.814,"color":"#0000"},{"offset":0.82,"color":"#0000"},{"offset":0.82,"color":"#000"},{"offset":0.824,"color":"#000"},{"offset":0.824,"color":"#0000"},{"offset":0.83,"color":"#0000"},{"offset":0.83,"color":"#000"},{"offset":0.834,"color":"#000"},{"offset":0.834,"color":"#0000"},{"offset":0.84,"color":"#0000"},{"offset":0.84,"color":"#000"},{"offset":0.844,"color":"#000"},{"offset":0.844,"color":"#0000"},{"offset":0.85,"color":"#0000"},{"offset":0.85,"color":"#000"},{"offset":0.854,"color":"#000"},{"offset":0.854,"color":"#0000"},{"offset":0.86,"color":"#0000"},{"offset":0.86,"color":"#000"},{"offset":0.864,"color":"#000"},{"offset":0.864,"color":"#0000"},{"offset":0.87,"color":"#0000"},{"offset":0.87,"color":"#000"},{"offset":0.874,"color":"#000"},{"offset":0.874,"color":"#0000"},{"offset":0.88,"color":"#0000"},{"offset":0.88,"color":"#000"},{"offset":0.884,"color":"#000"},{"offset":0.884,"color":"#0000"},{"offset":0.89,"color":"#0000"},{"offset":0.89,"color":"#000"},{"offset":0.894,"color":"#000"},{"offset":0.894,"color":"#0000"},{"offset":0.9,"color":"#0000"},
        {"offset":0.9,"color":"#000"},{"offset":0.904,"color":"#000"},{"offset":0.904,"color":"#0000"},{"offset":0.91,"color":"#0000"},{"offset":0.91,"color":"#000"},{"offset":0.914,"color":"#000"},{"offset":0.914,"color":"#0000"},{"offset":0.92,"color":"#0000"},{"offset":0.92,"color":"#000"},{"offset":0.924,"color":"#000"},{"offset":0.924,"color":"#0000"},{"offset":0.93,"color":"#0000"},{"offset":0.93,"color":"#000"},{"offset":0.934,"color":"#000"},{"offset":0.934,"color":"#0000"},{"offset":0.94,"color":"#0000"},{"offset":0.94,"color":"#000"},{"offset":0.944,"color":"#000"},{"offset":0.944,"color":"#0000"},{"offset":0.95,"color":"#0000"},{"offset":0.95,"color":"#000"},{"offset":0.954,"color":"#000"},{"offset":0.954,"color":"#0000"},{"offset":0.96,"color":"#0000"},{"offset":0.96,"color":"#000"},{"offset":0.964,"color":"#000"},{"offset":0.964,"color":"#0000"},{"offset":0.97,"color":"#0000"},{"offset":0.97,"color":"#000"},{"offset":0.974,"color":"#000"},{"offset":0.974,"color":"#0000"},{"offset":0.98,"color":"#0000"},{"offset":0.98,"color":"#000"},{"offset":0.984,"color":"#000"},{"offset":0.984,"color":"#0000"},{"offset":0.99,"color":"#0000"},{"offset":0.99,"color":"#000"},{"offset":0.994,"color":"#000"},{"offset":0.994,"color":"#0000"},{"offset":1,"color":"#0000"}
      ]}},
      "encoding": {
        "theta": {"field": "s0", "type": "quantitative", "scale": {"domain": [0, 1], "range": [1.5708, 7.854]}},
        "theta2": {"field": "s1"}
      }
    },
    {
      "transform": [{"filter": "datum.group === 'Seasonal'"}],
      "mark": {"type": "arc", "outerRadius": 231, "fill": {"gradient": "linear", "x1": 0, "y1": 1, "x2": 1.0088, "y2": 0.0091, "stops": [
        {"offset":0,"color":"#000"},{"offset":0.005,"color":"#ccc"},{"offset":0.01,"color":"#000"},{"offset":0.015,"color":"#ccc"},{"offset":0.02,"color":"#000"},{"offset":0.025,"color":"#ccc"},{"offset":0.03,"color":"#000"},{"offset":0.035,"color":"#ccc"},{"offset":0.04,"color":"#000"},{"offset":0.045,"color":"#ccc"},{"offset":0.05,"color":"#000"},{"offset":0.055,"color":"#ccc"},{"offset":0.06,"color":"#000"},{"offset":0.065,"color":"#ccc"},{"offset":0.07,"color":"#000"},{"offset":0.075,"color":"#ccc"},{"offset":0.08,"color":"#000"},{"offset":0.085,"color":"#ccc"},{"offset":0.09,"color":"#000"},{"offset":0.095,"color":"#ccc"},
        {"offset":0.1,"color":"#000"},{"offset":0.105,"color":"#ccc"},{"offset":0.11,"color":"#000"},{"offset":0.115,"color":"#ccc"},{"offset":0.12,"color":"#000"},{"offset":0.125,"color":"#ccc"},{"offset":0.13,"color":"#000"},{"offset":0.135,"color":"#ccc"},{"offset":0.14,"color":"#000"},{"offset":0.145,"color":"#ccc"},{"offset":0.15,"color":"#000"},{"offset":0.155,"color":"#ccc"},{"offset":0.16,"color":"#000"},{"offset":0.165,"color":"#ccc"},{"offset":0.17,"color":"#000"},{"offset":0.175,"color":"#ccc"},{"offset":0.18,"color":"#000"},{"offset":0.185,"color":"#ccc"},{"offset":0.19,"color":"#000"},{"offset":0.195,"color":"#ccc"},
        {"offset":0.2,"color":"#000"},{"offset":0.205,"color":"#ccc"},{"offset":0.21,"color":"#000"},{"offset":0.215,"color":"#ccc"},{"offset":0.22,"color":"#000"},{"offset":0.225,"color":"#ccc"},{"offset":0.23,"color":"#000"},{"offset":0.235,"color":"#ccc"},{"offset":0.24,"color":"#000"},{"offset":0.245,"color":"#ccc"},{"offset":0.25,"color":"#000"},{"offset":0.255,"color":"#ccc"},{"offset":0.26,"color":"#000"},{"offset":0.265,"color":"#ccc"},{"offset":0.27,"color":"#000"},{"offset":0.275,"color":"#ccc"},{"offset":0.28,"color":"#000"},{"offset":0.285,"color":"#ccc"},{"offset":0.29,"color":"#000"},{"offset":0.295,"color":"#ccc"},
        {"offset":0.3,"color":"#000"},{"offset":0.305,"color":"#ccc"},{"offset":0.31,"color":"#000"},{"offset":0.315,"color":"#ccc"},{"offset":0.32,"color":"#000"},{"offset":0.325,"color":"#ccc"},{"offset":0.33,"color":"#000"},{"offset":0.335,"color":"#ccc"},{"offset":0.34,"color":"#000"},{"offset":0.345,"color":"#ccc"},{"offset":0.35,"color":"#000"},{"offset":0.355,"color":"#ccc"},{"offset":0.36,"color":"#000"},{"offset":0.365,"color":"#ccc"},{"offset":0.37,"color":"#000"},{"offset":0.375,"color":"#ccc"},{"offset":0.38,"color":"#000"},{"offset":0.385,"color":"#ccc"},{"offset":0.39,"color":"#000"},{"offset":0.395,"color":"#ccc"},
        {"offset":0.4,"color":"#000"},{"offset":0.405,"color":"#ccc"},{"offset":0.41,"color":"#000"},{"offset":0.415,"color":"#ccc"},{"offset":0.42,"color":"#000"},{"offset":0.425,"color":"#ccc"},{"offset":0.43,"color":"#000"},{"offset":0.435,"color":"#ccc"},{"offset":0.44,"color":"#000"},{"offset":0.445,"color":"#ccc"},{"offset":0.45,"color":"#000"},{"offset":0.455,"color":"#ccc"},{"offset":0.46,"color":"#000"},{"offset":0.465,"color":"#ccc"},{"offset":0.47,"color":"#000"},{"offset":0.475,"color":"#ccc"},{"offset":0.48,"color":"#000"},{"offset":0.485,"color":"#ccc"},{"offset":0.49,"color":"#000"},{"offset":0.495,"color":"#ccc"},
        {"offset":0.5,"color":"#000"},{"offset":0.505,"color":"#ccc"},{"offset":0.51,"color":"#000"},{"offset":0.515,"color":"#ccc"},{"offset":0.52,"color":"#000"},{"offset":0.525,"color":"#ccc"},{"offset":0.53,"color":"#000"},{"offset":0.535,"color":"#ccc"},{"offset":0.54,"color":"#000"},{"offset":0.545,"color":"#ccc"},{"offset":0.55,"color":"#000"},{"offset":0.555,"color":"#ccc"},{"offset":0.56,"color":"#000"},{"offset":0.565,"color":"#ccc"},{"offset":0.57,"color":"#000"},{"offset":0.575,"color":"#ccc"},{"offset":0.58,"color":"#000"},{"offset":0.585,"color":"#ccc"},{"offset":0.59,"color":"#000"},{"offset":0.595,"color":"#ccc"},
        {"offset":0.6,"color":"#000"},{"offset":0.605,"color":"#ccc"},{"offset":0.61,"color":"#000"},{"offset":0.615,"color":"#ccc"},{"offset":0.62,"color":"#000"},{"offset":0.625,"color":"#ccc"},{"offset":0.63,"color":"#000"},{"offset":0.635,"color":"#ccc"},{"offset":0.64,"color":"#000"},{"offset":0.645,"color":"#ccc"},{"offset":0.65,"color":"#000"},{"offset":0.655,"color":"#ccc"},{"offset":0.66,"color":"#000"},{"offset":0.665,"color":"#ccc"},{"offset":0.67,"color":"#000"},{"offset":0.675,"color":"#ccc"},{"offset":0.68,"color":"#000"},{"offset":0.685,"color":"#ccc"},{"offset":0.69,"color":"#000"},{"offset":0.695,"color":"#ccc"},
        {"offset":0.7,"color":"#000"},{"offset":0.705,"color":"#ccc"},{"offset":0.71,"color":"#000"},{"offset":0.715,"color":"#ccc"},{"offset":0.72,"color":"#000"},{"offset":0.725,"color":"#ccc"},{"offset":0.73,"color":"#000"},{"offset":0.735,"color":"#ccc"},{"offset":0.74,"color":"#000"},{"offset":0.745,"color":"#ccc"},{"offset":0.75,"color":"#000"},{"offset":0.755,"color":"#ccc"},{"offset":0.76,"color":"#000"},{"offset":0.765,"color":"#ccc"},{"offset":0.77,"color":"#000"},{"offset":0.775,"color":"#ccc"},{"offset":0.78,"color":"#000"},{"offset":0.785,"color":"#ccc"},{"offset":0.79,"color":"#000"},{"offset":0.795,"color":"#ccc"},
        {"offset":0.8,"color":"#000"},{"offset":0.805,"color":"#ccc"},{"offset":0.81,"color":"#000"},{"offset":0.815,"color":"#ccc"},{"offset":0.82,"color":"#000"},{"offset":0.825,"color":"#ccc"},{"offset":0.83,"color":"#000"},{"offset":0.835,"color":"#ccc"},{"offset":0.84,"color":"#000"},{"offset":0.845,"color":"#ccc"},{"offset":0.85,"color":"#000"},{"offset":0.855,"color":"#ccc"},{"offset":0.86,"color":"#000"},{"offset":0.865,"color":"#ccc"},{"offset":0.87,"color":"#000"},{"offset":0.875,"color":"#ccc"},{"offset":0.88,"color":"#000"},{"offset":0.885,"color":"#ccc"},{"offset":0.89,"color":"#000"},{"offset":0.895,"color":"#ccc"},
        {"offset":0.9,"color":"#000"},{"offset":0.905,"color":"#ccc"},{"offset":0.91,"color":"#000"},{"offset":0.915,"color":"#ccc"},{"offset":0.92,"color":"#000"},{"offset":0.925,"color":"#ccc"},{"offset":0.93,"color":"#000"},{"offset":0.935,"color":"#ccc"},{"offset":0.94,"color":"#000"},{"offset":0.945,"color":"#ccc"},{"offset":0.95,"color":"#000"},{"offset":0.955,"color":"#ccc"},{"offset":0.96,"color":"#000"},{"offset":0.965,"color":"#ccc"},{"offset":0.97,"color":"#000"},{"offset":0.975,"color":"#ccc"},{"offset":0.98,"color":"#000"},{"offset":0.985,"color":"#ccc"},{"offset":0.99,"color":"#000"},{"offset":0.995,"color":"#ccc"},
        {"offset":1,"color":"#000"}
      ]}},
      "encoding": {
        "theta": {"field": "s0", "type": "quantitative", "scale": {"domain": [0, 1], "range": [1.5708, 7.854]}},
        "theta2": {"field": "s1"}
      }
    },
    {
      "transform": [{"filter": "datum.group === 'Seasonal'"}],
      "mark": {"type": "arc", "outerRadius": 231, "fill": {"gradient": "linear", "x1": 0, "y1": 0, "x2": 1.0088, "y2": 0.9909, "stops": [
        {"offset":0,"color":"#000"},{"offset":0.005,"color":"#0000"},{"offset":0.01,"color":"#000"},{"offset":0.015,"color":"#0000"},{"offset":0.02,"color":"#000"},{"offset":0.025,"color":"#0000"},{"offset":0.03,"color":"#000"},{"offset":0.035,"color":"#0000"},{"offset":0.04,"color":"#000"},{"offset":0.045,"color":"#0000"},{"offset":0.05,"color":"#000"},{"offset":0.055,"color":"#0000"},{"offset":0.06,"color":"#000"},{"offset":0.065,"color":"#0000"},{"offset":0.07,"color":"#000"},{"offset":0.075,"color":"#0000"},{"offset":0.08,"color":"#000"},{"offset":0.085,"color":"#0000"},{"offset":0.09,"color":"#000"},{"offset":0.095,"color":"#0000"},
        {"offset":0.1,"color":"#000"},{"offset":0.105,"color":"#0000"},{"offset":0.11,"color":"#000"},{"offset":0.115,"color":"#0000"},{"offset":0.12,"color":"#000"},{"offset":0.125,"color":"#0000"},{"offset":0.13,"color":"#000"},{"offset":0.135,"color":"#0000"},{"offset":0.14,"color":"#000"},{"offset":0.145,"color":"#0000"},{"offset":0.15,"color":"#000"},{"offset":0.155,"color":"#0000"},{"offset":0.16,"color":"#000"},{"offset":0.165,"color":"#0000"},{"offset":0.17,"color":"#000"},{"offset":0.175,"color":"#0000"},{"offset":0.18,"color":"#000"},{"offset":0.185,"color":"#0000"},{"offset":0.19,"color":"#000"},{"offset":0.195,"color":"#0000"},
        {"offset":0.2,"color":"#000"},{"offset":0.205,"color":"#0000"},{"offset":0.21,"color":"#000"},{"offset":0.215,"color":"#0000"},{"offset":0.22,"color":"#000"},{"offset":0.225,"color":"#0000"},{"offset":0.23,"color":"#000"},{"offset":0.235,"color":"#0000"},{"offset":0.24,"color":"#000"},{"offset":0.245,"color":"#0000"},{"offset":0.25,"color":"#000"},{"offset":0.255,"color":"#0000"},{"offset":0.26,"color":"#000"},{"offset":0.265,"color":"#0000"},{"offset":0.27,"color":"#000"},{"offset":0.275,"color":"#0000"},{"offset":0.28,"color":"#000"},{"offset":0.285,"color":"#0000"},{"offset":0.29,"color":"#000"},{"offset":0.295,"color":"#0000"},
        {"offset":0.3,"color":"#000"},{"offset":0.305,"color":"#0000"},{"offset":0.31,"color":"#000"},{"offset":0.315,"color":"#0000"},{"offset":0.32,"color":"#000"},{"offset":0.325,"color":"#0000"},{"offset":0.33,"color":"#000"},{"offset":0.335,"color":"#0000"},{"offset":0.34,"color":"#000"},{"offset":0.345,"color":"#0000"},{"offset":0.35,"color":"#000"},{"offset":0.355,"color":"#0000"},{"offset":0.36,"color":"#000"},{"offset":0.365,"color":"#0000"},{"offset":0.37,"color":"#000"},{"offset":0.375,"color":"#0000"},{"offset":0.38,"color":"#000"},{"offset":0.385,"color":"#0000"},{"offset":0.39,"color":"#000"},{"offset":0.395,"color":"#0000"},
        {"offset":0.4,"color":"#000"},{"offset":0.405,"color":"#0000"},{"offset":0.41,"color":"#000"},{"offset":0.415,"color":"#0000"},{"offset":0.42,"color":"#000"},{"offset":0.425,"color":"#0000"},{"offset":0.43,"color":"#000"},{"offset":0.435,"color":"#0000"},{"offset":0.44,"color":"#000"},{"offset":0.445,"color":"#0000"},{"offset":0.45,"color":"#000"},{"offset":0.455,"color":"#0000"},{"offset":0.46,"color":"#000"},{"offset":0.465,"color":"#0000"},{"offset":0.47,"color":"#000"},{"offset":0.475,"color":"#0000"},{"offset":0.48,"color":"#000"},{"offset":0.485,"color":"#0000"},{"offset":0.49,"color":"#000"},{"offset":0.495,"color":"#0000"},
        {"offset":0.5,"color":"#000"},{"offset":0.505,"color":"#0000"},{"offset":0.51,"color":"#000"},{"offset":0.515,"color":"#0000"},{"offset":0.52,"color":"#000"},{"offset":0.525,"color":"#0000"},{"offset":0.53,"color":"#000"},{"offset":0.535,"color":"#0000"},{"offset":0.54,"color":"#000"},{"offset":0.545,"color":"#0000"},{"offset":0.55,"color":"#000"},{"offset":0.555,"color":"#0000"},{"offset":0.56,"color":"#000"},{"offset":0.565,"color":"#0000"},{"offset":0.57,"color":"#000"},{"offset":0.575,"color":"#0000"},{"offset":0.58,"color":"#000"},{"offset":0.585,"color":"#0000"},{"offset":0.59,"color":"#000"},{"offset":0.595,"color":"#0000"},
        {"offset":0.6,"color":"#000"},{"offset":0.605,"color":"#0000"},{"offset":0.61,"color":"#000"},{"offset":0.615,"color":"#0000"},{"offset":0.62,"color":"#000"},{"offset":0.625,"color":"#0000"},{"offset":0.63,"color":"#000"},{"offset":0.635,"color":"#0000"},{"offset":0.64,"color":"#000"},{"offset":0.645,"color":"#0000"},{"offset":0.65,"color":"#000"},{"offset":0.655,"color":"#0000"},{"offset":0.66,"color":"#000"},{"offset":0.665,"color":"#0000"},{"offset":0.67,"color":"#000"},{"offset":0.675,"color":"#0000"},{"offset":0.68,"color":"#000"},{"offset":0.685,"color":"#0000"},{"offset":0.69,"color":"#000"},{"offset":0.695,"color":"#0000"},
        {"offset":0.7,"color":"#000"},{"offset":0.705,"color":"#0000"},{"offset":0.71,"color":"#000"},{"offset":0.715,"color":"#0000"},{"offset":0.72,"color":"#000"},{"offset":0.725,"color":"#0000"},{"offset":0.73,"color":"#000"},{"offset":0.735,"color":"#0000"},{"offset":0.74,"color":"#000"},{"offset":0.745,"color":"#0000"},{"offset":0.75,"color":"#000"},{"offset":0.755,"color":"#0000"},{"offset":0.76,"color":"#000"},{"offset":0.765,"color":"#0000"},{"offset":0.77,"color":"#000"},{"offset":0.775,"color":"#0000"},{"offset":0.78,"color":"#000"},{"offset":0.785,"color":"#0000"},{"offset":0.79,"color":"#000"},{"offset":0.795,"color":"#0000"},
        {"offset":0.8,"color":"#000"},{"offset":0.805,"color":"#0000"},{"offset":0.81,"color":"#000"},{"offset":0.815,"color":"#0000"},{"offset":0.82,"color":"#000"},{"offset":0.825,"color":"#0000"},{"offset":0.83,"color":"#000"},{"offset":0.835,"color":"#0000"},{"offset":0.84,"color":"#000"},{"offset":0.845,"color":"#0000"},{"offset":0.85,"color":"#000"},{"offset":0.855,"color":"#0000"},{"offset":0.86,"color":"#000"},{"offset":0.865,"color":"#0000"},{"offset":0.87,"color":"#000"},{"offset":0.875,"color":"#0000"},{"offset":0.88,"color":"#000"},{"offset":0.885,"color":"#0000"},{"offset":0.89,"color":"#000"},{"offset":0.895,"color":"#0000"},
        {"offset":0.9,"color":"#000"},{"offset":0.905,"color":"#0000"},{"offset":0.91,"color":"#000"},{"offset":0.915,"color":"#0000"},{"offset":0.92,"color":"#000"},{"offset":0.925,"color":"#0000"},{"offset":0.93,"color":"#000"},{"offset":0.935,"color":"#0000"},{"offset":0.94,"color":"#000"},{"offset":0.945,"color":"#0000"},{"offset":0.95,"color":"#000"},{"offset":0.955,"color":"#0000"},{"offset":0.96,"color":"#000"},{"offset":0.965,"color":"#0000"},{"offset":0.97,"color":"#000"},{"offset":0.975,"color":"#0000"},{"offset":0.98,"color":"#000"},{"offset":0.985,"color":"#0000"},{"offset":0.99,"color":"#000"},{"offset":0.995,"color":"#0000"},
        {"offset":1,"color":"#000"}
      ]}},
      "encoding": {
        "theta": {"field": "s0", "type": "quantitative", "scale": {"domain": [0, 1], "range": [1.5708, 7.854]}},
        "theta2": {"field": "s1"}
      }
    },
    {
      "mark": {"type": "arc", "outerRadius": 231, "filled": false, "stroke": "#000", "strokeWidth": 2.8},
      "encoding": {
        "theta": {"field": "s0", "type": "quantitative", "scale": {"domain": [0, 1], "range": [1.5708, 7.854]}},
        "theta2": {"field": "s1"}
      }
    },
    {
      "mark": {"type": "arc", "outerRadius": 252, "innerRadius": 231, "padAngle": 3.1416, "filled": false, "stroke": "#000", "strokeWidth": 2},
      "encoding": {
        "theta": {"field": "s0", "type": "quantitative", "scale": {"domain": [0, 1], "range": [1.5708, 7.854]}},
        "theta2": {"field": "s1"}
      }
    },
    {
      "mark": {"type": "text", "radius": 252, "dx": 64, "dy": -48, "align": "center", "baseline": "alphabetic", "font": "Liberation Sans", "fontSize": 32, "fontWeight": "bold", "color": "#000", "stroke": "#000", "strokeWidth": 0.7},
      "encoding": {
        "theta": {"field": "share", "type": "quantitative", "stack": true, "scale": {"domain": [0, 1], "range": [1.5708, 7.854]}},
        "order": {"field": "group", "sort": "descending"},
        "detail": {"field": "group"},
        "text": {"condition": {"test": "datum.group === 'Growers'", "field": "group"}, "value": ""}
      }
    },
    {
      "mark": {"type": "text", "radius": 252, "dx": 65, "dy": -11, "align": "center", "baseline": "alphabetic", "font": "Liberation Sans", "fontSize": 32, "fontWeight": "bold", "color": "#000", "stroke": "#000", "strokeWidth": 0.7},
      "encoding": {
        "theta": {"field": "share", "type": "quantitative", "stack": true, "scale": {"domain": [0, 1], "range": [1.5708, 7.854]}},
        "order": {"field": "group", "sort": "descending"},
        "detail": {"field": "group"},
        "text": {"condition": {"test": "datum.group === 'Growers'", "field": "share", "type": "quantitative", "format": ".0%"}, "value": ""}
      }
    },
    {
      "mark": {"type": "text", "radius": 252, "dx": -72, "dy": 33, "align": "center", "baseline": "alphabetic", "font": "Liberation Sans", "fontSize": 32, "fontWeight": "bold", "color": "#000", "stroke": "#000", "strokeWidth": 0.7},
      "encoding": {
        "theta": {"field": "share", "type": "quantitative", "stack": true, "scale": {"domain": [0, 1], "range": [1.5708, 7.854]}},
        "order": {"field": "group", "sort": "descending"},
        "detail": {"field": "group"},
        "text": {"condition": {"test": "datum.group === 'Migrants'", "field": "group"}, "value": ""}
      }
    },
    {
      "mark": {"type": "text", "radius": 252, "dx": -73, "dy": 76, "align": "center", "baseline": "alphabetic", "font": "Liberation Sans", "fontSize": 32, "fontWeight": "bold", "color": "#000", "stroke": "#000", "strokeWidth": 0.7},
      "encoding": {
        "theta": {"field": "share", "type": "quantitative", "stack": true, "scale": {"domain": [0, 1], "range": [1.5708, 7.854]}},
        "order": {"field": "group", "sort": "descending"},
        "detail": {"field": "group"},
        "text": {"condition": {"test": "datum.group === 'Migrants'", "field": "share", "type": "quantitative", "format": ".0%"}, "value": ""}
      }
    },
    {
      "mark": {"type": "text", "radius": 252, "dx": 73, "dy": 29, "align": "center", "baseline": "alphabetic", "font": "Liberation Sans", "fontSize": 32, "fontWeight": "bold", "color": "#000", "stroke": "#000", "strokeWidth": 0.7},
      "encoding": {
        "theta": {"field": "share", "type": "quantitative", "stack": true, "scale": {"domain": [0, 1], "range": [1.5708, 7.854]}},
        "order": {"field": "group", "sort": "descending"},
        "detail": {"field": "group"},
        "text": {"condition": {"test": "datum.group === 'Seasonal'", "field": "group"}, "value": ""}
      }
    },
    {
      "mark": {"type": "text", "radius": 252, "dx": 72, "dy": 69, "align": "center", "baseline": "alphabetic", "font": "Liberation Sans", "fontSize": 32, "fontWeight": "bold", "color": "#000", "stroke": "#000", "strokeWidth": 0.7},
      "encoding": {
        "theta": {"field": "share", "type": "quantitative", "stack": true, "scale": {"domain": [0, 1], "range": [1.5708, 7.854]}},
        "order": {"field": "group", "sort": "descending"},
        "detail": {"field": "group"},
        "text": {"condition": {"test": "datum.group === 'Seasonal'", "field": "share", "type": "quantitative", "format": ".0%"}, "value": ""}
      }
    }
  ]
}
